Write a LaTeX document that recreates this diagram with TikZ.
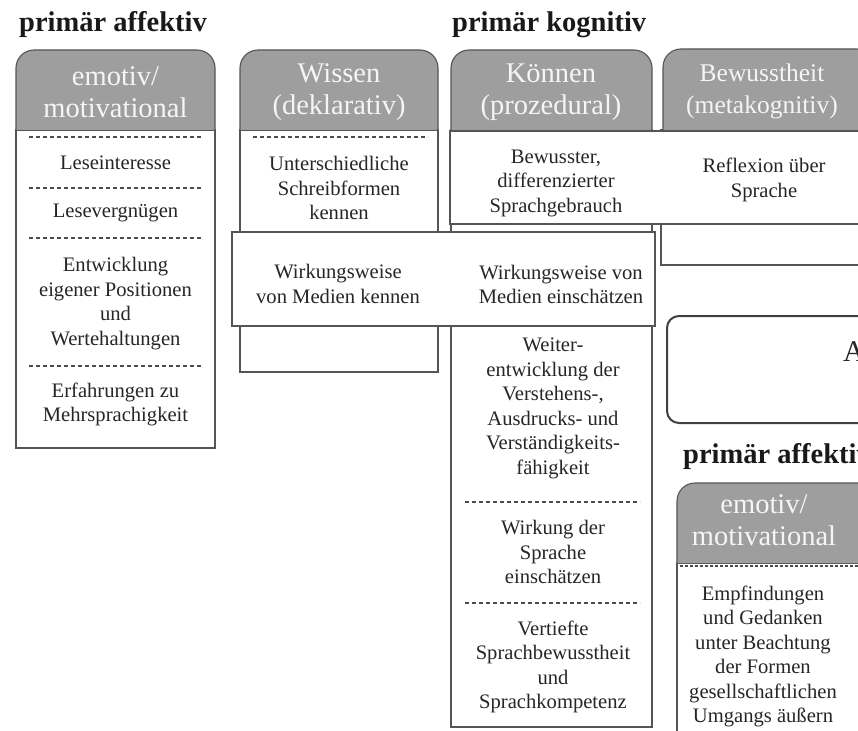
\documentclass[tikz,border=0pt]{standalone}
\usepackage{fontspec}
\usepackage{xcolor}
\setmainfont{Liberation Serif}
\usepackage{tikz}

\newcommand{\bodyfont}{\fontsize{20.6}{24.5}\selectfont}
\newcommand{\headfont}{\fontsize{28.5}{32}\selectfont}
\newcommand{\titlefont}{\fontsize{28.5}{32}\selectfont\bfseries}
\definecolor{headgray}{RGB}{158,158,158}
\definecolor{inkgray}{RGB}{85,85,85}

\begin{document}
\begin{tikzpicture}[x=1pt,y=-1pt,
  frame/.style={draw=inkgray, line width=1.1pt, fill=white},
  headfill/.style={fill=headgray, draw=inkgray, line width=1.1pt, rounded corners=18},
  cellline/.style={draw=black!70, line width=1.2pt, dash pattern=on 4pt off 3pt},
  body/.style={font=\bodyfont, align=center, text=black!85, inner sep=0pt},
  head/.style={font=\headfont, align=center, text=black!4, inner sep=0pt},
  title/.style={font=\titlefont, anchor=base west, inner sep=0pt, text=black!90}]

\useasboundingbox (0,0) rectangle (858,730);
\clip (0,0) rectangle (858,730);

% ==== Headings ====
\node[title] (affLeft) at (19,32) {primär affektiv};
\node[title] (kogn) at (452,32) {primär kognitiv};
\node[title] (affRight) at (683,463) {primär affektiv};

% ==== Column 1 - emotiv/motivational ====
\draw[frame] (16,130) rectangle (215,448);
\filldraw[headfill] (16,130) -- (16,50) -- (215,50) -- (215,130);
\node[head] (emoL) at (115.5,92.5) {emotiv/\\motivational};

\draw[cellline] (29,137) -- (202,137);
\draw[cellline] (29,188) -- (202,188);
\draw[cellline] (29,238) -- (202,238);
\draw[cellline] (29,366) -- (202,366);

\node[body] (lInt) at (115.5,163) {Leseinteresse};
\node[body] (lVer) at (115.5,213) {Lesevergnügen};
\node[body] (lPos) at (115.5,303.5) {Entwicklung\\eigener Positionen\\und\\Wertehaltungen};
\node[body] (lMehr) at (115.5,404.5) {Erfahrungen zu\\Mehrsprachigkeit};

% ==== Column 2 - Wissen ====
\draw[frame] (240,130) rectangle (438,372);
\filldraw[headfill] (240,130) -- (240,50) -- (438,50) -- (438,130);
\node[head] (wis) at (339,92.5) {Wissen\\(deklarativ)};
\draw[cellline] (253,137) -- (428,137);
\node[body] (wSchr) at (339,188) {Unterschiedliche\\Schreibformen\\kennen};

% ==== Column 3 - Koennen ====
\draw[frame] (451,130) rectangle (652,727);
\filldraw[headfill] (451,130) -- (451,50) -- (652,50) -- (652,130);
\node[head] (kon) at (551,92) {Können\\(prozedural)};

\draw[cellline] (465,502) -- (640,502);
\draw[cellline] (465,603) -- (640,603);

\node[body] (kWeit) at (553,408.5) {Weiter-\\entwicklung der\\Verstehens-,\\Ausdrucks- und\\Verständigkeits-\\fähigkeit};
\node[body] (kWirk) at (553,552) {Wirkung der\\Sprache\\einschätzen};
\node[body] (kVert) at (553,667) {Vertiefte\\Sprachbewusstheit\\und\\Sprachkompetenz};

% ==== Column 4 - Bewusstheit ====
\draw[frame] (661,130) rectangle (875,265);
\filldraw[headfill] (663,130) -- (663,49) -- (875,49) -- (875,130);
\node[head, font=\fontsize{25.5}{32}\selectfont] (bew) at (762,91.5) {Bewusstheit\\(metakognitiv)};

% ==== Bands across columns ====
\draw[frame] (450,131) rectangle (875,224);
\node[body] (bSpr) at (556,183) {Bewusster,\\differenzierter\\Sprachgebrauch};
\node[body] (bRef) at (764,180) {Reflexion über\\Sprache};

\draw[frame] (232,232) rectangle (655,326);
\node[body] (mKen) at (338,284) {Wirkungsweise\\von Medien kennen};
\node[body] (mEin) at (561,284.5) {Wirkungsweise von\\Medien einschätzen};

% ==== Box A ====
\draw[draw=black!75, line width=2pt, rounded corners=12] (667,316) rectangle (890,423);
\node[font=\fontsize{30}{36}\selectfont, anchor=west, inner sep=0pt, text=black!85] (boxA) at (843,352) {A};

% ==== Column 5 - emotiv/motivational (right) ====
\draw[frame] (677,563) rectangle (880,760);
\filldraw[headfill] (677,563) -- (677,483) -- (880,483) -- (880,563);
\node[head] (emoR) at (764,520) {emotiv/\\motivational};
\draw[cellline, dash pattern=on 3pt off 2pt] (680,566) -- (858,566);
\node[body] (rEmp) at (763,656.5) {Empfindungen\\und Gedanken\\unter Beachtung\\der Formen\\gesellschaftlichen\\Umgangs äußern};

\end{tikzpicture}
\end{document}
